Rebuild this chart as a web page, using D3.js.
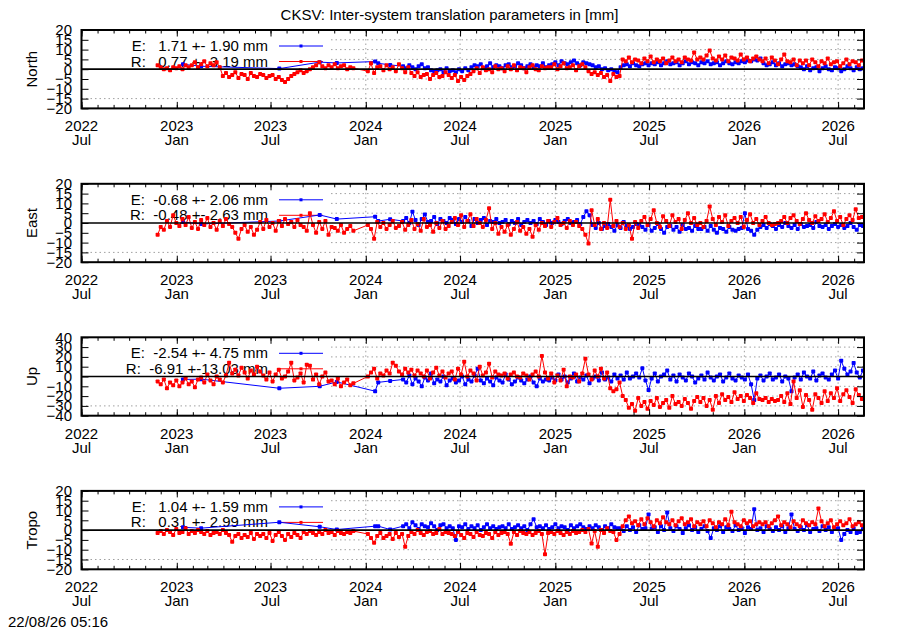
<!DOCTYPE html>
<html><head><meta charset="utf-8">
<script src="https://cdn.jsdelivr.net/npm/d3@7"></script>
<style>
body{margin:0;background:#fff}
svg text{font-family:"Liberation Sans",Arial,Helvetica,sans-serif;font-size:15px;white-space:pre;fill:#000}
</style>
</head><body>
<svg id="c" width="900" height="630"></svg>
<script>
// ---------------- data ----------------
const titleText = "CKSV: Inter-system translation parameters in [mm]";
const stampText = "22/08/26 05:16";
const panelNames = ["North", "East", "Up", "Tropo"];
const yLimits = [20, 20, 40, 20];
const yTickStep = [5, 5, 10, 5];
const legendE = ["E:   1.71 +- 1.90 mm", "E:  -0.68 +- 2.06 mm", "E:  -2.54 +- 4.75 mm", "E:   1.04 +- 1.59 mm"];
const legendR = ["R:   0.77 +- 3.19 mm", "R:  -0.48 +- 2.63 mm", "R:  -6.91 +-13.03 mm", "R:   0.31 +- 2.99 mm"];
const xDomain = ["2022-07-01", "2026-08-20"];
const stepDays = 6;
const redStartA = "2022-11-25";
const redStartB = "2024-01-05";
const blueStart = "2024-03-13";
const blueEarlyDates = ["2023-01-13","2023-02-17","2023-07-18","2023-10-04","2023-11-06","2024-01-19","2024-01-25","2024-02-17"];

const northBlueEarly = [2.5,1.5,0.3,3.6,3.2,3.9,3.0,2.2];
const northBlue = [1.5,0.5,2,1,0,1.5,2.5,0.5,1,-0.5, -1,-0.5,0,-1.5,0.5,-1, -0.5,-1.5,0,-1,0.5,-0.5,
 1,2,1.5,2.5,0.5,1.5,3,1,2,1.5,0.5,2,2.5,1,1.5,3,2,0.5,1.5,2.5,1,2,1.5,3,1,2,
 2.5,3.5,2,4,3,2.5,3.5,4.5,3,2,3.5,3,2.5, 2,1,1.5,0,0.5,-0.5,0,-1,-1.5, 1,2,2.5,1.5,3,2,1.5,2.5,3,2,
 3,2.5,3.5,2,3,4,2.5,3,3.5,2,3,4,2.5,3.5,3,2,3.5,3,4,2.5,3,3.5,2,3,4,3,2.5,3.5,3,4,3.5,4.5,4,5,4.5,
 5.5,3,2,2.5,3.5,2,3,1.5,2.5,3,2,2.5,1.5,
 1,0,1.5,-0.5,0.5,1,-1,0.5,1.5,0,-0.5,1,0.5,-1,0,1.5,0.5,-0.5,1,0,0.5];
const northRedA = [2,1,0,0.5,-0.5,1, 0.5,1.5,0,2,1, 2,3.5,1,2.5,4,1.5,3,2,3.5,1,
 -3.5,-2,-4,-3,-1.5,-4.5,-2.5,-3,-5,-2,-3.5,-4,-2.5,-3,-4.5,-3.5, -3,-5,-4,-5.5,-6.5,-5,-3.5,-2.5,
 -1.5,-0.5,-2,-1,0, 1,2,3.5,1.5,0.5,2,1,2.5,0.5,1.5,2,0,1,0.5];
const northRedB = [-1,3,-2,1, 1.5,-0.5,2,0,1,-1,2.5,0.5,-1.5,1, -2,-3.5,-1.5,-4,-3,-2.5,-5,-3,-2,-4,-3.5,-1.5,-3,
 -4.5,-3,-6,-4,-5.5,-3.5,-2.5, -1,0.5,-2,1,-0.5,0,-1.5,1.5,0,
 0.5,-1,1.5,0,2,-0.5,1,0.5,-1.5,1,2,0,-0.5,1.5,0.5,1, 1,2.5,0,1.5,3,0.5,1,2,-0.5,1.5,2.5,1,
 -1,-2.5,-1.5,-3,-2,-4,-3,-6,-2.5,-4,-3.5,
 5,4,6,3.5,5,4.5,3,5.5,4,6.5,3.5,5,4,5.5,3,4.5,6,4,5,3.5,6,5,4.5,8.5,5,
 6,5,7,9.5,5.5,4.5,6.5,5,7,4,6,5.5,4.5,7.5,5,6,4,5.5,6.5,5,
 4,5.5,3,6,4.5,2.5,5,7.5,4,3.5,5,2,4.5,
 3,4.5,2,5,3.5,1.5,4,3,5.5,2.5,3.5,4,1.5,3,5,2.5,4,3.5,2,4.5];

const eastBlueEarly = [0.5,-0.5,1.0,4.1,2.0,3.2,1.0,1.9];
const eastBlue = [1,2.5,0,5.8,1.5,-1,2,4.4,0.5,1,3,-0.5,2,1,0,2.5,
 1.5,-0.5,2,0.5,3,1,-1.5,2,0,1.5,2.5,-1,1,0.5,2,0,
 0.5,1.5,-0.5,1,0,2,-1,0.5,1.5,0,1,-0.5,2,0.5,-1,1,0,1.5,0.5,-0.5,1,2,0,0.5,1.5,-0.5,
 3,6,4,
 -1,-2.5,0,-3,-1.5,-0.5,-2,-4,-1,-2.5,0.5,-1.5,-3,-2,-0.5,-1,
 -2,-3.5,-1,-4,-2.5,-0.5,-3,-5,-2,-1.5,-3.5,-2,-4.5,-1,-3,-2.5,-4,-1.5,-3,
 -3,-2,-4,-1.5,-3.5,-5,-2.5,-3,-4.5,-2,-3.5,-4,-3,
 -2.5,5,-3, -4,-6,-3.5,
 -2,-1,-2.5,-0.5,-1.5,-3,-1,-2,0,-1.5,-2.5,-1,-3,-0.5,-2,-1.5,-1,-2.5,0.5,-1.5,-2,-1,-3,-1.5,-0.5,-2,-1,-2.5,-1.5,0,-2,-3.5,-1,-1.5];
const eastRedA = [-6,-2, -3.5,1,-2,4,0,-1.5,
 2,-1,3,-2.5,0.5,-3,1.5,-1,2.5,-2,0,-3.5,1,-1.5,2,-0.5,
 -2,-5,-8,-3,-1,-4.5,-2,-6,-3.5,0.5, -3,1.5,-2,0,-4, 1,-1.5,2,-0.5,0.5,-2,1.5,-1,
 -2,-4,5,-1,-5,0.5,-3,1,-6,-2, -2.5,-4,-1,-5,-3,-1.5,-4];
const eastRedB = [-1,-3,-8,0.5, -2,0,-3,-1,1,-2.5,-1.5,0.5,-3.5,-1,
 1.5,-3,-0.5,-4,2,-2,-1,-4.5,0,-2.5,1,-3,-1.5,
 0.5,2.5,-1,4,-2,1,4.5,-1.5,2,0, -2,1.5,7.5,-3,0,-5.5,
 -2,-4.5,-1,-6,-3,0.5,-4,-2,-5.5,-3,-7,-1,-3.5,
 0,-1.5,1,-2,0.5,2.5,-1,0,-2.5,1,-1,0.5,-1.5,
 -3,-6,-10.5, 6.5, -1,2,-3,0,-2.5,11.8,-1.5,1, -2,0,-3,-1,-8,0.5,-2.5,
 1,3,-1,2,6.5,0,-2,3.5,1,-1.5,4,0.5,2,-3,1.5,5,0,2.5,-1,
 0,-2,1, 8.4,
 2,-1,3,0.5,4,-1.5,1,2.5,0,3,-2,1.5,4.5,0,2,-1,1,3,0,
 -1,-0.5,0,
 1,3,0,2.5,4,1,-0.5,2,5,1.5,0,3.5,1,2,4.5,0.5,2.5,6,1,3,-1,2,4,1.5,7,2.5,3];

const upBlueEarly = [-3,-2.7,-12,-10,-5.5,-15,-6,-4.5];
const upBlue = [-3,-6,1,-8,-2,-5,-10,-1,-4,3,-7,-3,-5,0,-9,-4,
 -2,-6,-4,0,-8,-3,-5,1,8,-4,-7,-2,-5,-9,-1,-4,-6,2,-3,-8,-5,-1,-4,-7,-3,0,-6,-10,-2,-5,-3,-4,
 -1,-4,2,-3,0,-6,-2,3,-5,-1,-3,1,-7,-2,0,-4,4,-3,-1,-5,2,-2,
 1,-3,4,-2,0,3,-1, 8.5, -4,-13.7, -2,3,-5,0,2, 6,
 -3,1,-5,2,-1,-4,3,0,-6,-2,1,-3,4,-1,-4,0,2,-5,-1,3,-2,-4,1,-1,-3,2,
 -8,-24, -2,1,-4,0,3,-3,-1,2,-5,0,-2, -15,
 -1,2,-3,4,0,-2,5,-4,1,3,-1,-3,2,6,-2, 16, 8,2,5,13.7,4,-1,6];
const upRedA = [-5,-8,-3,-12,-6,-9, -4,-10,-6,-2,-8,-5,-11,-3, -1,-6,2,-4,-8,0,-3,-6,1, 14,
 3,7,1,9,4,-2,6,2,10,5, 1,-3,4,-5,2,7,-2,0,5,14,-4, -1,3,-6,12,11,-3,2,-8,0,4,-5,
 -4,-8,-2,-10,-6,-3,-9,-7];
const upRedB = [0,4,8,-2,3,1, 6,3,14,11,5,2,8,4,7,1,6, 3,0,6,-2,4,9,1,5,-1,3,
 5,-3,8,2,15,0,6,3,-4,10,1,4,13,-1,5,2, 1,3,-2,2,4,0,-1,3,1,-3,2,5,0, 21,4,
 -2,3,-6,1,-4,7,-10,0,-1,2,-5,3, 18, 2,-3,6,0,8,-2,4,-12,-15,-13,-6, -20,
 -24,-32,-28,-35,-22,-30,-26,-33,
 -25,-29,-22,-31,-27,-24,-32,-20,-28,-26,-30,-23,-27,-33,-25,-21,
 -26,-22,-30,-24,-34,-20,-27,
 -18,-24,-21,-26,-16,-23,-20,-25,-19,-22,-27,-17,-23,
 -24,-22,-26,-23,-25,-24,
 -20,-26,-17,-28,-5,-22,-14,-31,-19,-24,-34,-18,-22,-27,-15,-25,
 -17,-22,-12,-25,-18,-14,-21,-27,-13,-19,-23];

const tropoBlueEarly = [1.4,1.0,4.0,1.7,0.3,2.0,2.0,0.3];
const tropoBlue = [2,3,1,4,2.5,0.5,3,2,1.5,3.5,2,0,2.5,3,1,2,
 1,-5,2,1.5,3,0.5,2,1,2.5,0,1.5,3,1,2,0.5,1.5,
 2,1,3,0.5,1.5,2.5,1,2,0,3,5.5,1.5,2,1,2.5,0.5,1.5,3,1,2,1.5,0,2.5,1,2,3,1.5,0.5,2,1,2.5,1.5,0,2,1,3,1.5,1,
 1,-0.5,2,0,1.5,-1,2.5,0.5,1,8,
 0.5,1.5,-1,2,0,9,1,-0.5,2,0.5, -1.5,1,2.5,0,1.5,-1,0.5,2,-0.5,-4,
 1,0,2,-1,1.5,0.5,-0.5,2.5,0,1, -1.5,1.5,0.5,10.6,0,1,-1,2,0.5,-0.5,
 1.5,0,2,-1,1,8,0.5,-0.5,1.5,0, 2.5,-1,0.5,1,-0.5,2,0,1.5,-1,0.5, 1,-5,-2,0,-1,1,-1.5,-1,0.5];
const tropoRedA = [-1.5,-0.5,-2,0,-1,-2.5,0.5,-1.5,-1,1,-2,-0.5,-1.5,0,
 -1,-2,-0.5,-2.5,-1.5,-1,-2,0,-1.5,-2.5,
 -6,-3,-2,-4,-2.5,-3.5,-1.5,-4.5,-2,-3,
 -2,-4,-1.5,-5.5,-2.5,-1,-3,-5,-2,-3.5,-1.5,-2.5,-4,
 -1,-2,-0.5,-1.5,-2.5,-1,-2,0,-1.5,-1,-2.5,-0.5,-1.5,-2,-1,-1.5,-0.5];
const tropoRedB = [-2,-4,-6.5,-3,-1.5,-4, -3,-2,-4.5,-1.5,-3.5,-2,-8.5,-3,
 -1,-2,0,-1.5,-2.5,-1,-0.5,-2,-1.5,0.5,-2,-1,-1.5,
 -2,-3,-1,-2.5,-4,-1.5,-2,-3.5,-1,-2.5,-3,-1.5,-2,-4,-1,-2.5,
 -1.5,-1,-2,-7,-1,-2.5,-0.5,-1.5,-2,-1,-2.5,-1.5,-0.5,-2,-12.3,-1.5,-1,-2,-0.5,-1.5,-2.5,-1,-2,-0.5,-1.5,-1,
 0,-1,0.5,-6.8,-0.5,-8.5,0,-1.5,1,-0.5,-1,-5,-2,
 2,5,7,3.5,4.5,2.5,5.5,3,6,4,2,5,3.5,6.5,4,3,5,2.5,4.5,6,3,4,5.5,2,4,
 3,4.5,2,5,3.5,1.5,4,3,5.5,2.5,9.4,4,3,2,5,3.5,4.5,2,3,4,
 3,4,2,3.5,5,7,2.5,4,3,1.5,4.5,3,2,5,3.5,2.5,4,3,11,4.5,2,3.5,5,1.5,3,4.5,2.5,3.5,5.5,2,3,4,2.5];

const blueEarly = [northBlueEarly, eastBlueEarly, upBlueEarly, tropoBlueEarly];
const blueDense = [northBlue, eastBlue, upBlue, tropoBlue];
const redA = [northRedA, eastRedA, upRedA, tropoRedA];
const redB = [northRedB, eastRedB, upRedB, tropoRedB];

// ---------------- layout ----------------
const left = 81.5, right = 864;
const tops = [30, 183.8, 337.3, 490.9];
const PH = 78.4;
const legendMaskX = 331;
const blue = "#0000ff", red = "#ff0000";
const MS = 4; // marker size

const parse = d3.utcParse("%Y-%m-%d");
const svg = d3.select("#c");
const x = d3.scaleUtc().domain(xDomain.map(parse)).range([left, right]);
const majorTicks = x.ticks(d3.utcMonth.every(6));
const minorTicks = x.ticks(d3.utcMonth.every(1));

function seq(start, vals) {
  const s = parse(start);
  return vals.map((v, i) => ({d: d3.utcDay.offset(s, i * stepDays), v}));
}

svg.append("text").attr("x", 449.5).attr("y", 20).attr("text-anchor", "middle").text(titleText);
svg.append("text").attr("x", 8).attr("y", 627).text(stampText);

panelNames.forEach((name, p) => {
  const top = tops[p], bot = top + PH, lim = yLimits[p], st = yTickStep[p];
  const y = d3.scaleLinear().domain([-lim, lim]).range([bot, top]);
  const g = svg.append("g");
  const levels = d3.range(-lim, lim + st / 2, st);

  // grid
  const gridLevels = levels.filter(v => v !== 0 && Math.abs(v) !== lim);
  g.selectAll("line.hg").data(gridLevels).join("line")
    .attr("x1", v => v === -lim + st ? left : legendMaskX).attr("x2", right)
    .attr("y1", v => y(v)).attr("y2", v => y(v))
    .attr("stroke", "#a0a0a0").attr("stroke-width", 1).attr("stroke-dasharray", "1.5,3");
  g.selectAll("line.vg").data(majorTicks.filter(d => x(d) > legendMaskX && x(d) < right - 1)).join("line")
    .attr("x1", d => x(d)).attr("x2", d => x(d)).attr("y1", top).attr("y2", bot)
    .attr("stroke", "#a0a0a0").attr("stroke-width", 1).attr("stroke-dasharray", "1.5,3");

  // legend
  const lg = g.append("g");
  [[legendE[p], blue, 16], [legendR[p], red, 31.5]].forEach(([t, c, dy]) => {
    lg.append("text").attr("x", 268).attr("y", top + dy + 5).attr("text-anchor", "end").text(t);
    lg.append("line").attr("x1", 279).attr("x2", 323).attr("y1", top + dy).attr("y2", top + dy)
      .attr("stroke", c).attr("stroke-width", 1);
    lg.append("rect").attr("x", 301 - 1.5).attr("y", top + dy - 1.5).attr("width", 3).attr("height", 3).attr("fill", c);
  });

  // data
  const clipId = "clip" + p;
  svg.append("clipPath").attr("id", clipId).append("rect")
    .attr("x", left).attr("y", top).attr("width", right - left).attr("height", PH);
  const dg = g.append("g").attr("clip-path", `url(#${clipId})`);
  const bSeries = blueEarlyDates.map((s, i) => ({d: parse(s), v: blueEarly[p][i]})).concat(seq(blueStart, blueDense[p]));
  const rSeries = seq(redStartA, redA[p]).concat(seq(redStartB, redB[p]));
  const line = d3.line().x(d => x(d.d)).y(d => y(d.v));
  [[bSeries, blue], [rSeries, red]].forEach(([s, c]) => {
    dg.append("path").datum(s).attr("d", line).attr("fill", "none").attr("stroke", c).attr("stroke-width", 1);
    dg.append("g").selectAll("rect").data(s).join("rect")
      .attr("x", d => x(d.d) - MS / 2).attr("y", d => y(d.v) - MS / 2)
      .attr("width", MS).attr("height", MS).attr("rx", 0.8).attr("fill", c);
  });

  // zero line
  g.append("line").attr("x1", left).attr("x2", right).attr("y1", y(0)).attr("y2", y(0))
    .attr("stroke", "#000").attr("stroke-width", 1.7);

  // axes (ticks inward)
  const styleAxis = a => { a.select(".domain").remove(); a.selectAll("line").attr("stroke", "#000").attr("stroke-width", 1); };
  g.append("g").attr("transform", `translate(0,${bot})`)
    .call(d3.axisBottom(x).tickValues(minorTicks).tickSize(-3.5).tickFormat("")).call(styleAxis);
  g.append("g").attr("transform", `translate(0,${bot})`)
    .call(d3.axisBottom(x).tickValues(majorTicks).tickSize(-6.5).tickFormat("")).call(styleAxis);
  g.append("g").attr("transform", `translate(0,${top})`)
    .call(d3.axisTop(x).tickValues(minorTicks).tickSize(-3.5).tickFormat("")).call(styleAxis);
  g.append("g").attr("transform", `translate(0,${top})`)
    .call(d3.axisTop(x).tickValues(majorTicks).tickSize(-6.5).tickFormat("")).call(styleAxis);
  const ya = g.append("g").attr("transform", `translate(${left},0)`)
    .call(d3.axisLeft(y).tickValues(levels).tickSize(-7).tickPadding(9.5).tickFormat(d3.format("d"))).call(styleAxis);
  ya.attr("font-size", null).attr("font-family", null);
  ya.selectAll("text").attr("fill", "#000");
  g.append("g").attr("transform", `translate(${right},0)`)
    .call(d3.axisRight(y).tickValues(levels).tickSize(-7).tickFormat("")).call(styleAxis);

  // x labels
  const xl = g.append("g");
  majorTicks.forEach(d => {
    xl.append("text").attr("x", x(d)).attr("y", bot + 23).attr("text-anchor", "middle").text(d3.utcFormat("%Y")(d));
    xl.append("text").attr("x", x(d)).attr("y", bot + 37).attr("text-anchor", "middle").text(d3.utcFormat("%b")(d));
  });

  // frame
  g.append("rect").attr("x", left).attr("y", top).attr("width", right - left).attr("height", PH)
    .attr("fill", "none").attr("stroke", "#000").attr("stroke-width", 2);

  // y label
  g.append("text").attr("transform", `translate(37,${(top + bot) / 2}) rotate(-90)`)
    .attr("text-anchor", "middle").text(name);
});
</script>
</body></html>
